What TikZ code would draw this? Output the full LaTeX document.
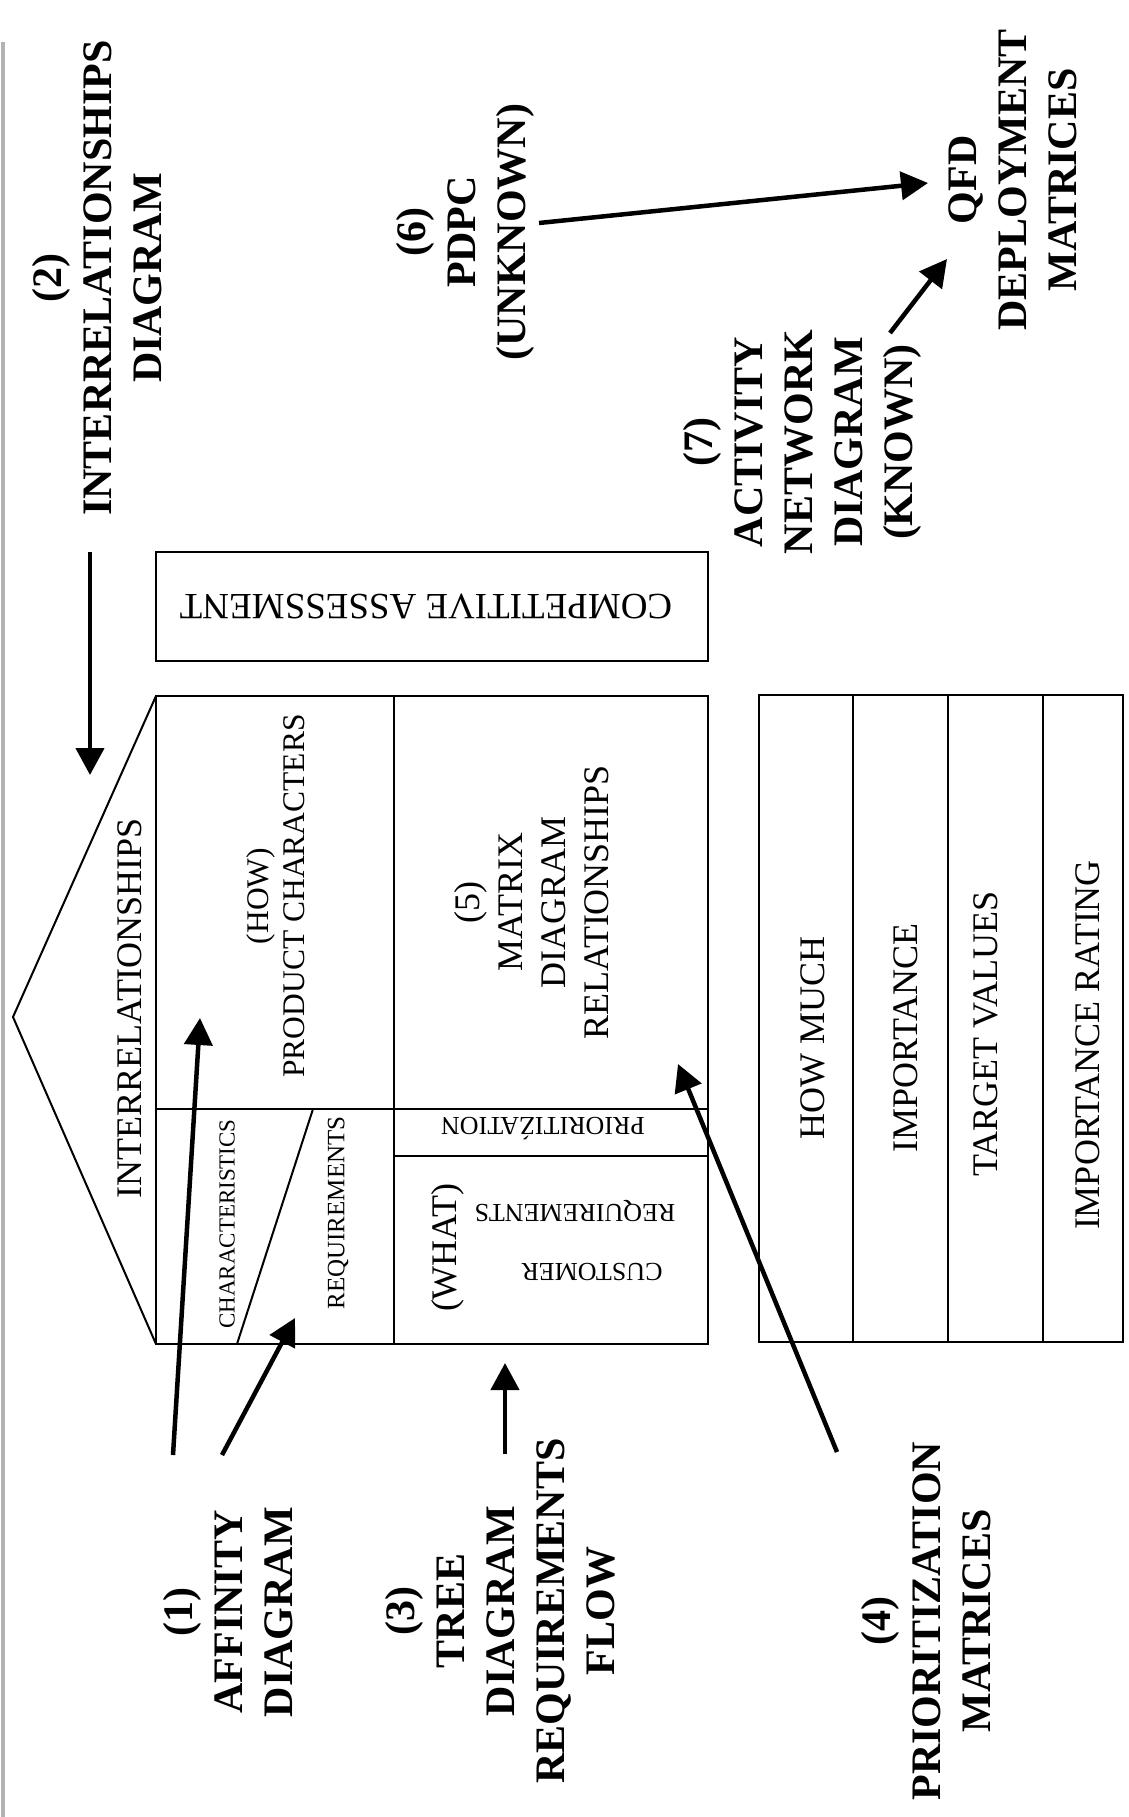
\documentclass[tikz,border=0pt]{standalone}
\usepackage{fontspec}
\setmainfont{Liberation Serif}
\usetikzlibrary{arrows.meta}
\tikzset{
  lbl/.style={rotate=90, align=center, inner sep=0pt, font=\fontsize{42}{50}\selectfont\bfseries},
  txt/.style={rotate=90, align=center, inner sep=0pt, font=\fontsize{36}{42}\selectfont},
  flip/.style={rotate=180, inner sep=0pt},
  frame/.style={draw=black, line width=2.6pt},
  roofline/.style={draw=black, line width=2pt, line join=miter},
  bigarrow/.style={draw=black, line width=4.5pt, -{Triangle[length=27pt,width=28pt]}},
}
\begin{document}
\begin{tikzpicture}[x=1pt,y=-1pt]
\useasboundingbox (0,0) rectangle (1128,1817);
\fill[white] (0,0) rectangle (1128,1817);
% scanned page edge
\draw[gray!60, line width=4pt] (3,42) -- (3,1817);

% ---------- house of quality ----------
\draw[roofline] (156,696) -- (13,1017) -- (156,1344);
\draw[frame] (156,696) rectangle (708,1344);
\draw[frame] (394,696) -- (394,1344);
\draw[frame] (156,1109) -- (708,1109);
\draw[frame] (394,1156) -- (708,1156);
\draw[roofline] (313,1109) -- (237,1344);

% competitive assessment box
\draw[frame] (156,552) rectangle (708,661);
% bottom right strips
\draw[frame] (759,695) rectangle (1123,1342);
\draw[frame] (853,695) -- (853,1342);
\draw[frame] (948,695) -- (948,1342);
\draw[frame] (1043,695) -- (1043,1342);

% ---------- texts inside ----------
\node[txt] (roof) at (130,1008) {INTERRELATIONSHIPS};
\node[txt, font=\fontsize{31.5}{36}\selectfont] (how) at (276,896) {(HOW)\\PRODUCT CHARACTERS};
\node[txt, font=\fontsize{36}{43}\selectfont] (matrix) at (532,902) {(5)\\MATRIX\\DIAGRAM\\RELATIONSHIPS};
\node[txt, font=\fontsize{23}{27}\selectfont] (charac) at (227,1224) {CHARACTERISTICS};
\node[txt, font=\fontsize{25}{30}\selectfont] (reqleft) at (338,1213) {REQUIREMENTS};
\node[txt] (what) at (448,1248) {(WHAT)};
\node[flip, font=\fontsize{26}{30}\selectfont] (reqcust) at (575,1211) {REQUIREMENTS};
\node[flip, font=\fontsize{26}{30}\selectfont] (cust) at (592,1272) {CUSTOMER};
\node[flip, font=\fontsize{26}{30}\selectfont] (prio) at (543,1129) {PRIORITIŹATION};
\node[flip, font=\fontsize{37}{42}\selectfont] (comp) at (426,606) {COMPETITIVE ASSESSMENT};
\node[txt] (howmuch) at (813,1038) {HOW MUCH};
\node[txt] (imp) at (906,1038) {IMPORTANCE};
\node[txt] (target) at (986,1034) {TARGET VALUES};
\node[txt] (rating) at (1088,1045) {IMPORTANCE RATING};

% ---------- bold labels ----------
\node[lbl] (L2) at (97,278) {(2)\\INTERRELATIONSHIPS\\DIAGRAM};
\node[lbl] (L6) at (465,232) {(6)\\PDPC\\(UNKNOWN)};
\node[lbl] (QFD) at (1013,180) {QFD\\DEPLOYMENT\\MATRICES};
\node[lbl] (L7) at (802,442) {(7)\\ACTIVITY\\NETWORK\\DIAGRAM\\(KNOWN)};
\node[lbl] (L1) at (228,1612) {(1)\\AFFINITY\\DIAGRAM};
\node[lbl] (L3) at (500,1611) {(3)\\TREE\\DIAGRAM\\REQUIREMENTS\\FLOW};
\node[lbl] (L4) at (926,1621) {(4)\\PRIORITIZATION\\MATRICES};

% ---------- arrow end points ----------
\coordinate (a2s) at (90,552);   \coordinate (a2e) at (90,775);
\coordinate (a6s) at (539,223);  \coordinate (a6e) at (928,183);
\coordinate (a7s) at (890,333);  \coordinate (a7e) at (947,259);
\coordinate (a1s) at (173,1455); \coordinate (a1e) at (200,1018);
\coordinate (a1bs) at (222,1455);\coordinate (a1be) at (295,1318);
\coordinate (a3s) at (505,1454); \coordinate (a3e) at (505,1363);
\coordinate (a4s) at (837,1452); \coordinate (a4e) at (678,1064);

\draw[bigarrow] (a2s) -- (a2e);
\draw[bigarrow] (a6s) -- (a6e);
\draw[bigarrow] (a7s) -- (a7e);
\draw[bigarrow] (a1s) -- (a1e);
\draw[bigarrow] (a1bs) -- (a1be);
\draw[bigarrow] (a3s) -- (a3e);
\draw[bigarrow] (a4s) -- (a4e);
\end{tikzpicture}
\end{document}
